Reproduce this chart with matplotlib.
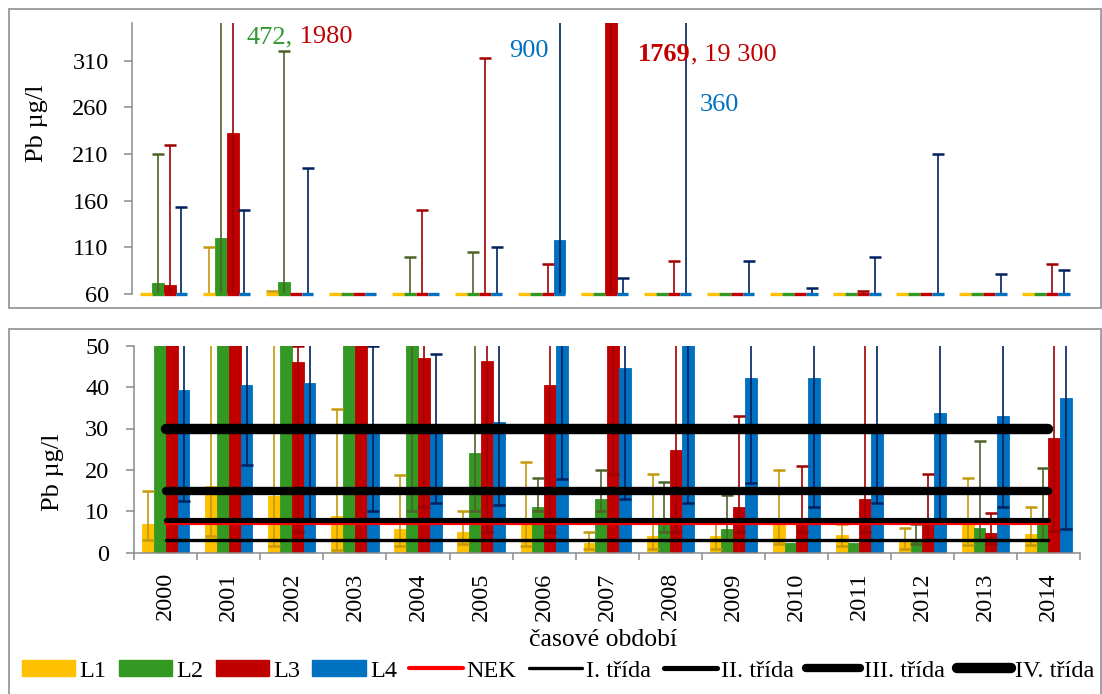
import numpy as np
import matplotlib
matplotlib.use("Agg")
import matplotlib.pyplot as plt
from matplotlib.patches import Rectangle, Patch
from matplotlib.lines import Line2D

plt.rcParams["font.family"] = ["Liberation Serif", "DejaVu Serif"]
plt.rcParams["font.size"] = 17.5

# ---------------- data ----------------
years = [str(y) for y in range(2000, 2015)]

L1 = [7, 16, 13.8, 8.9, 5.8, 4.9, 7, 2.3, 4, 4.1, 7, 4.3, 2.5, 7, 4.5]
L1_min = [3, 4, 1.5, 0.7, 1.5, 2, 1.5, 0.8, 0.8, 0.9, 2, 1.5, 0.9, 1.9, 1.9]
L1_max = [15, 110, 63, 34.7, 18.8, 10, 22, 5.1, 19, 7.5, 20, 7, 6, 18, 11]

L2 = [72, 120, 73, 55, 55, 24.2, 11, 13, 8, 5.7, 2.3, 2.3, 3, 5.9, 7]
L2_min = [55, 55, 55, 52, 10, 10, 10, 10, 5, 3, np.nan, np.nan, 2, 3, 3]
L2_max = [210, 472, 320, 58, 100, 105, 18, 20, 17, 14, np.nan, np.nan, 7, 27, 20.5]

L3 = [70, 232, 46.1, 55, 47, 46.3, 40.4, 1769, 24.8, 11.1, 7, 13, 7, 4.8, 27.7]
L3_min = [55, 55, 5, 52, 11, 5, 5, 19, 5, 5, 5, 5, 3, 2, 5.3]
L3_max = [220, 1980, 50, 58, 150, 313, 92, 19300, 95, 33, 21, 63, 19, 9.7, 92.5]

L4 = [39.2, 40.4, 41.1, 29.5, 29.5, 31.5, 118, 44.6, 55, 42.1, 42.1, 29, 33.7, 32.9, 37.3]
L4_min = [12.6, 21.3, 8, 10, 12.1, 11.5, 17.9, 12.9, 11.9, 16.8, 11, 11.9, 8, 11, 5.7]
L4_max = [153, 150, 195, 50, 48, 110, 900, 77, 360, 95, 66, 100, 210, 81, 86]

NEK = 7.2
class_limits = {"I. třída": 3, "II. třída": 8, "III. třída": 15, "IV. třída": 30}

series_names = ["L1", "L2", "L3", "L4"]
means = [L1, L2, L3, L4]
mins = [L1_min, L2_min, L3_min, L4_min]
maxs = [L1_max, L2_max, L3_max, L4_max]

# ---------------- styling ----------------
bar_colors = ["#FFC000", "#339922", "#C00000", "#0070C0"]
err_colors = ["#C39A0C", "#4F6228", "#A00000", "#002060"]
class_widths = [2.4, 3.7, 6.0, 7.5]
gray = "#8A8A8A"

W, H = 1102, 694
fig = plt.figure(figsize=(W / 100, H / 100), dpi=100)


def px_box(l, t, r, b):
    return [l / W, 1 - b / H, (r - l) / W, (b - t) / H]


# panel frames
fig.patches.append(Rectangle((8.5 / W, 1 - 307.7 / H), (1101 - 8.5) / W, (307.7 - 9.3) / H,
                             transform=fig.transFigure, fill=False, edgecolor="#A0A0A0", lw=1.4))
fig.patches.append(Rectangle((8.5 / W, 1 - 710 / H), (1101 - 8.5) / W, (710 - 328.6) / H,
                             transform=fig.transFigure, fill=False, edgecolor="#A0A0A0", lw=1.4))

x = np.arange(len(years))
w = 0.187
offsets = (np.arange(4) - 1.5) * w


def draw_bars(ax):
    for k in range(4):
        v = np.array(means[k], dtype=float)
        lo = np.array(mins[k], dtype=float)
        hi = np.array(maxs[k], dtype=float)
        xs = x + offsets[k]
        ax.bar(xs, v, w, color=bar_colors[k], edgecolor=bar_colors[k], lw=0.6, zorder=2)
        ok = ~np.isnan(lo) & ~np.isnan(hi)
        ax.errorbar(xs[ok], v[ok], yerr=[v[ok] - lo[ok], hi[ok] - v[ok]], fmt="none",
                    ecolor=err_colors[k], elinewidth=1.2, capsize=4.3, capthick=1.8, zorder=3)


def style_left(ax, pad):
    for s in ["top", "right"]:
        ax.spines[s].set_visible(False)
    ax.spines["left"].set_color(gray)
    ax.spines["left"].set_linewidth(1.1)
    ax.tick_params(axis="y", direction="out", length=6, width=1.1, color=gray, pad=pad)


# ---------------- top panel (detail of high values) ----------------
ax1 = fig.add_axes(px_box(132.3, 23.3, 1077.5, 294))
draw_bars(ax1)
ax1.set_xlim(-0.5, len(years) - 0.5)
ax1.set_ylim(60, 350)
# thin strips marking every bar at the axis floor
for k in range(4):
    xs = x + offsets[k]
    ax1.hlines(np.full(len(xs), ax1.get_ylim()[0]), xs - w / 2, xs + w / 2,
               colors=bar_colors[k], lw=2.4, clip_on=False, zorder=4)
ax1.set_yticks([60, 110, 160, 210, 260, 310])
style_left(ax1, 11)
ax1.spines["bottom"].set_visible(False)
ax1.set_xticks([])

ann = dict(ha="left", va="baseline", fontsize=19)
t1 = ax1.text(1.315, 328.6, "472,", color="#339933", **ann)
ax1.annotate(" 1980", xy=(1, 0), xycoords=t1, color="#C00000", ha="left", va="bottom", fontsize=19)
ax1.text(5.478, 313.6, "900", color="#0070C0", **ann)
t2 = ax1.text(7.53, 310, "1769", color="#C00000", fontweight="bold", **ann)
ax1.annotate(", 19 300", xy=(1, 0), xycoords=t2, color="#C00000", ha="left", va="bottom", fontsize=19)
ax1.text(8.51, 256, "360", color="#0070C0", **ann)

# ---------------- bottom panel (0-50 with classes) ----------------
ax2 = fig.add_axes(px_box(134.3, 345.7, 1080, 552.7))
draw_bars(ax2)
ax2.plot(x, np.full(len(x), NEK), color="#FF0000", lw=3.0, solid_capstyle="round", zorder=5)
for (name, lim), lw in zip(class_limits.items(), class_widths):
    ax2.plot(x, np.full(len(x), lim), color="black", lw=lw, solid_capstyle="round", zorder=6)
ax2.set_xlim(-0.5, len(years) - 0.5)
ax2.set_ylim(0, 50)
ax2.set_yticks(range(0, 51, 10))
style_left(ax2, 12)
ax2.spines["bottom"].set_color(gray)
ax2.spines["bottom"].set_linewidth(1.1)
ax2.set_xticks(x)
ax2.set_xticklabels(years, rotation=90, fontsize=17.5)
ax2.set_xticks(np.arange(-0.5, len(years)), minor=True)
ax2.tick_params(axis="x", which="major", length=0, pad=14)
ax2.tick_params(axis="x", which="minor", direction="out", length=5, width=1.1, color=gray)

fig.text(603 / W, 1 - 646 / H, "časové období", ha="center", va="baseline", fontsize=18.5)
fig.text(37.5 / W, 1 - 123 / H, "Pb µg/l", rotation=90, ha="center", va="center", fontsize=19)
fig.text(52.5 / W, 1 - 472 / H, "Pb µg/l", rotation=90, ha="center", va="center", fontsize=19)

# ---------------- legend ----------------
handles = [Patch(facecolor=c, edgecolor=c) for c in bar_colors]
labels = list(series_names)
handles.append(Line2D([], [], color="#FF0000", lw=3.0, solid_capstyle="round"))
labels.append("NEK")
for name, lw in zip(class_limits, class_widths):
    handles.append(Line2D([], [], color="black", lw=lw, solid_capstyle="round"))
    labels.append(name)
fig.legend(handles, labels, loc="center left", bbox_to_anchor=(22 / W, 1 - 671 / H), ncol=9,
           frameon=False, handlelength=2.2, handleheight=0.62, handletextpad=0.17,
           columnspacing=0.5, borderpad=0, borderaxespad=0, fontsize=17.5)

fig.savefig("out.png", dpi=100)
